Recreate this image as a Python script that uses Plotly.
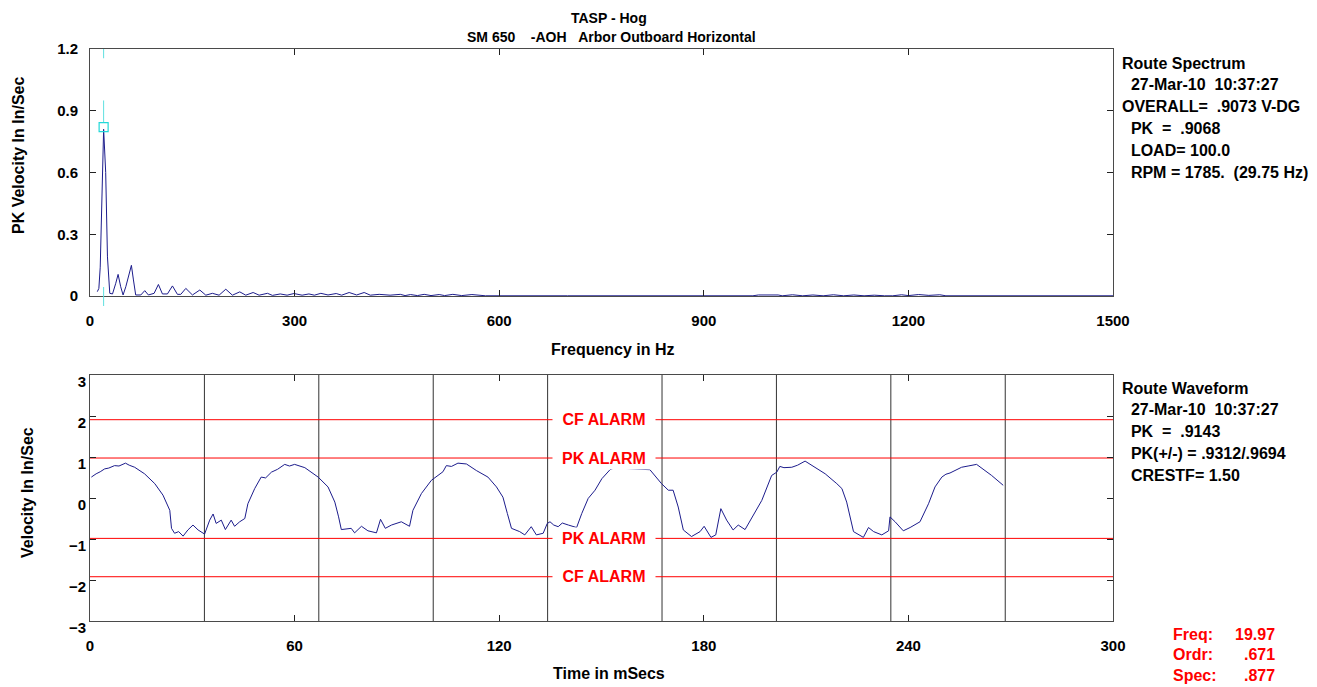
import plotly.graph_objects as go

# ---------------- data ----------------
freq_hz = [10.7, 13.0, 15.0, 17.6, 20.0, 23.0, 25.6, 29.0, 33.0, 37.8, 41.2, 45.0, 48.5,
           52.5, 57.4, 60.7, 63.7, 67.0, 74.5, 80.3, 85.6, 94.0, 100.3, 106.2, 113.5,
           120.9, 128.2, 133.1, 140.5, 150.2, 161.0, 169.8, 179.5, 189.3, 199.1, 208.8,
           219.6, 228.4, 239.2, 248.0, 260.2, 267.5, 279, 289, 299, 311, 321, 329, 338.5,
           349, 361, 369, 380, 391, 402, 411, 424, 440, 455, 462, 470, 480, 490, 500,
           512, 520, 532, 545, 560, 572, 580, 700, 972, 980, 1009, 1015, 1030, 1045,
           1060, 1075, 1090, 1105, 1120, 1135, 1150, 1165, 1177, 1190, 1200, 1215,
           1230, 1246, 1255, 1500]
spec_amp = [0.021, 0.037, 0.14, 0.50, 0.81, 0.60, 0.19, 0.013, 0.010, 0.062, 0.105,
            0.045, 0.005, 0.045, 0.110, 0.149, 0.078, 0.005, 0.005, 0.026, 0.005,
            0.013, 0.056, 0.010, 0.010, 0.049, 0.008, 0.008, 0.037, 0.005, 0.029,
            0.004, 0.013, 0.004, 0.033, 0.004, 0.020, 0.004, 0.017, 0.004, 0.013,
            0.003, 0.010, 0.004, 0.012, 0.004, 0.010, 0.004, 0.013, 0.005, 0.012,
            0.004, 0.017, 0.005, 0.017, 0.004, 0.008, 0.004, 0.008, 0.002, 0.007,
            0.002, 0.008, 0.002, 0.007, 0.002, 0.008, 0.002, 0.007, 0.002, 0.001,
            0.001, 0.001, 0.005, 0.005, 0.001, 0.006, 0.001, 0.005, 0.001, 0.006,
            0.001, 0.005, 0.001, 0.004, 0.001, 0.001, 0.006, 0.002, 0.007, 0.003,
            0.006, 0.001, 0.001]

time_ms = [0.4, 1.0, 1.8, 3.0, 4.3, 5.5, 7.2, 8.5, 10.4, 11.5, 13.1, 16.0, 19.0, 21.4,
           23.4, 23.9, 24.8, 26.0, 27.3, 28.7, 30.2, 31.7, 33.6, 35.1, 36.1, 37.0,
           38.5, 39.7, 41.4, 42.4, 43.9, 45.4, 46.3, 48.3, 50.2, 51.5, 53.2, 55.0,
           57.1, 58.5, 60.0, 63.0, 66.9, 69.8, 71.8, 72.9, 73.7, 76.6, 77.6, 79.6,
           81.5, 84.0, 85.2, 86.6, 88.4, 91.3, 93.7, 94.7, 97.2, 100.1, 102.1, 103.5,
           104.5, 106.0, 107.9, 110.4, 113.3, 116.7, 119.2, 121.1, 122.4, 123.6,
           126.0, 127.5, 129.4, 130.9, 132.9, 134.1, 134.9, 136.0, 137.3, 138.5,
           140.3, 142.7, 144.2, 146.1, 148.1, 150.1, 152.5, 155.0, 157.0, 160.5,
           164.2, 167.6, 169.6, 171.0, 172.5, 174.0, 176.4, 178.9, 180.1, 182.1,
           183.5, 185.0, 186.7, 188.6, 190.1, 192.1, 194.5, 197.0, 199.9, 201.4,
           202.3, 203.5, 205.8, 207.5, 209.7, 211.7, 215.6, 219.0, 220.5, 221.9,
           222.9, 223.9, 226.8, 228.3, 229.8, 232.2, 234.2, 234.6, 236.1, 237.0,
           238.5, 240.5, 243.4, 245.9, 247.8, 249.8, 251.0, 252.2, 255.6, 257.5,
           260.0, 264.4, 267.8]
velocity = [0.51, 0.55, 0.59, 0.64, 0.71, 0.73, 0.79, 0.78, 0.85, 0.80, 0.75, 0.59,
            0.35, 0.07, -0.30, -0.74, -0.86, -0.82, -0.93, -0.78, -0.66, -0.78, -0.88,
            -0.54, -0.39, -0.62, -0.54, -0.77, -0.54, -0.69, -0.58, -0.50, -0.14,
            0.23, 0.51, 0.49, 0.63, 0.70, 0.82, 0.78, 0.82, 0.74, 0.51, 0.27, -0.10,
            -0.46, -0.77, -0.74, -0.85, -0.69, -0.80, -0.85, -0.52, -0.74, -0.66,
            -0.58, -0.69, -0.30, 0.11, 0.43, 0.55, 0.64, 0.79, 0.77, 0.85, 0.83, 0.67,
            0.51, 0.27, 0.02, -0.38, -0.74, -0.82, -0.90, -0.70, -0.90, -0.86, -0.62,
            -0.58, -0.66, -0.70, -0.61, -0.66, -0.72, -0.38, -0.01, 0.19, 0.47, 0.69,
            0.78, 0.72, 0.70, 0.69, 0.35, 0.19, 0.19, -0.22, -0.78, -0.94, -0.82,
            -0.69, -0.96, -0.90, -0.26, -0.54, -0.78, -0.66, -0.77, -0.42, -0.06, 0.55,
            0.63, 0.77, 0.74, 0.75, 0.80, 0.90, 0.79, 0.59, 0.35, 0.23, -0.10, -0.46,
            -0.82, -0.96, -0.72, -0.82, -0.90, -0.80, -0.46, -0.58, -0.66, -0.80,
            -0.72, -0.58, -0.14, 0.27, 0.51, 0.58, 0.61, 0.75, 0.78, 0.82, 0.55, 0.31]

rev_marks_ms = [33.55, 67.1, 100.65, 134.2, 167.75, 201.3, 234.85, 268.4]
pk_alarm = [0.975, -0.985]
cf_alarm = [1.91, -1.92]
cursor_freq = 19.97
cursor_amp = 0.82

spec_xticks = [0, 300, 600, 900, 1200, 1500]
spec_yticks = [0, 0.3, 0.6, 0.9, 1.2]
spec_yticktext = ["0", "0.3", "0.6", "0.9", "1.2"]
wave_xticks = [0, 60, 120, 180, 240, 300]
wave_yticks = [-3, -2, -1, 0, 1, 2, 3]

spectrum_info = ["Route Spectrum", "  27-Mar-10  10:37:27", "OVERALL=  .9073 V-DG",
                 "  PK  =  .9068", "  LOAD= 100.0", "  RPM = 1785.  (29.75 Hz)"]
waveform_info = ["Route Waveform", "  27-Mar-10  10:37:27", "  PK  =  .9143",
                 "  PK(+/-) = .9312/.9694", "  CRESTF= 1.50"]
cursor_labels = ["Freq:", "Ordr:", "Spec:"]
cursor_values = ["19.97", ".671", ".877"]

# ---------------- layout helpers ----------------
OFF = 8                    # page body margin
W, H = 1317 - OFF, 687 - OFF
SL, SR = 90, 1113          # plot left/right in screen px
FONT = "Liberation Sans"


def px(x):
    return (x - SL) / (SR - SL)


def py(y):
    return 1 - (y - OFF) / H


BLUE = "#1c1c8c"
RED = "#ff0000"
AX = "#4a4a4a"

fig = go.Figure()
fig.add_trace(go.Scatter(x=freq_hz, y=spec_amp, mode="lines",
                         line=dict(color=BLUE, width=1), xaxis="x", yaxis="y",
                         showlegend=False, hoverinfo="skip"))
fig.add_trace(go.Scatter(x=[cursor_freq], y=[cursor_amp], mode="markers",
                         marker=dict(symbol="square-open", color="#22d8d8", size=9,
                                     line=dict(width=1.2)),
                         xaxis="x", yaxis="y", showlegend=False))
fig.add_trace(go.Scatter(x=time_ms, y=velocity, mode="lines",
                         line=dict(color=BLUE, width=1), xaxis="x2", yaxis="y2",
                         showlegend=False, hoverinfo="skip"))

shapes = []
for y0, y1 in [(1.2, 1.155), (0.95, 0.845)]:
    shapes.append(dict(type="line", xref="x", yref="y", x0=cursor_freq, x1=cursor_freq,
                       y0=y0, y1=y1, line=dict(color="#5fe0e0", width=1)))
shapes.append(dict(type="line", xref="x", yref="paper", x0=cursor_freq, x1=cursor_freq,
                   y0=py(287), y1=py(306), line=dict(color="#5fe0e0", width=1)))
for t in rev_marks_ms:
    shapes.append(dict(type="line", xref="x2", yref="y2 domain", x0=t, x1=t, y0=0, y1=1,
                       line=dict(color="#333333", width=1), layer="below"))
for v in pk_alarm + cf_alarm:
    shapes.append(dict(type="line", xref="x2 domain", yref="y2", x0=0, x1=1, y0=v, y1=v,
                       line=dict(color=RED, width=1), layer="below"))

ann = []
tf = dict(family=FONT, size=16, color="black", weight="bold")


def note(text, x, y, font, xanchor="center", **kw):
    ann.append(dict(text=text, x=px(x), y=py(y), xref="paper", yref="paper",
                    xanchor=xanchor, yanchor="middle", showarrow=False, font=font, **kw))


title_font = dict(family=FONT, size=14, color="black", weight="bold")
note("TASP - Hog", 609, 18, title_font, borderpad=0)
note("SM 650&nbsp;&nbsp;&nbsp;&nbsp;-AOH&nbsp;&nbsp;&nbsp;Arbor Outboard Horizontal", 611, 37,
     title_font, borderpad=0)
note("PK Velocity In In/Sec", 18, 156, tf, textangle=-90)
note("Frequency in Hz", 613, 349, tf)
note("Velocity In In/Sec", 27, 493, tf, textangle=-90)
note("Time in mSecs", 609, 673, tf)
for i, s in enumerate(spectrum_info):
    note(s.replace(" ", "&nbsp;"), 1120, 63 + i * 21.8, tf, xanchor="left")
for i, s in enumerate(waveform_info):
    note(s.replace(" ", "&nbsp;"), 1120, 388 + i * 21.9, tf, xanchor="left")
rf = dict(family=FONT, size=16, color=RED, weight="bold")
for i, (a, b) in enumerate(zip(cursor_labels, cursor_values)):
    note(a, 1171, 634 + i * 20.5, rf, xanchor="left")
    note(b, 1277, 634 + i * 20.5, rf, xanchor="right")
for v, lab in [(cf_alarm[0], "CF ALARM"), (pk_alarm[0], "PK ALARM"),
               (pk_alarm[1], "PK ALARM"), (cf_alarm[1], "CF ALARM")]:
    ann.append(dict(text=lab, x=150.8, y=v, xref="x2", yref="y2", showarrow=False,
                    xanchor="center", yanchor="middle",
                    bgcolor="white", width=100, height=19, font=rf))

axis_common = dict(showline=True, linecolor=AX, linewidth=1, mirror="ticks", ticks="inside",
                   ticklen=6, tickcolor="#222222", showgrid=False, zeroline=False,
                   automargin=False,
                   tickfont=dict(family=FONT, size=15, color="black", weight="bold"))

fig.update_layout(
    template="none",
    width=W, height=H,
    margin=dict(l=SL - OFF, r=W - (SR - OFF), t=0, b=0, pad=0, autoexpand=False),
    paper_bgcolor="white", plot_bgcolor="white",
    showlegend=False,
    xaxis=dict(domain=[0, 1], range=[0, 1500], tickvals=spec_xticks, anchor="y",
               ticklabelstandoff=11, **axis_common),
    yaxis=dict(domain=[py(296), py(49)], range=[0, 1.2], tickvals=spec_yticks,
               ticktext=spec_yticktext, anchor="x", ticklabelstandoff=8, **axis_common),
    xaxis2=dict(domain=[0, 1], range=[0, 300], tickvals=wave_xticks, anchor="y2",
                ticklabelstandoff=11, **axis_common),
    yaxis2=dict(domain=[py(621), py(375)], range=[-3, 3], tickvals=wave_yticks, anchor="x2",
                ticklabelstandoff=0, ticklabelshift=7, **axis_common),
    shapes=shapes,
    annotations=ann,
)

fig.write_html("out.html")
